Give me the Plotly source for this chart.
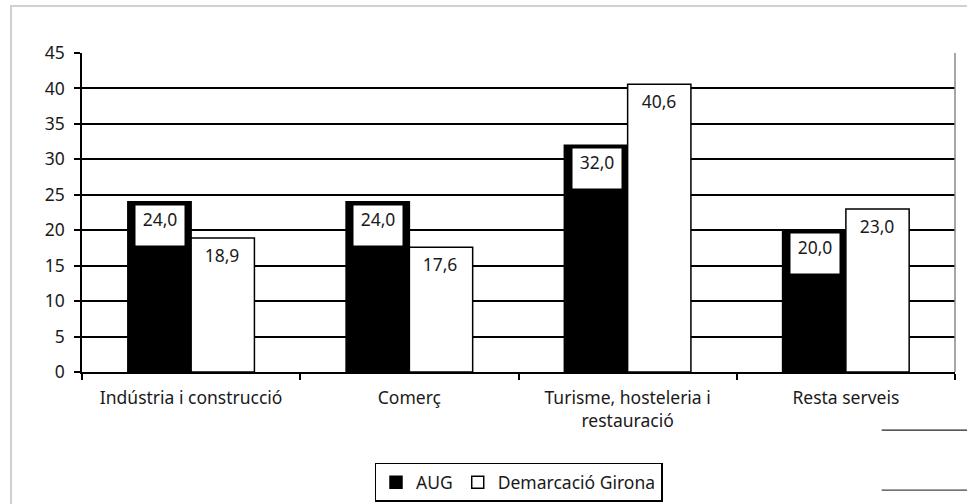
import plotly.graph_objects as go

categories = ["Indústria i construcció", "Comerç", "Turisme, hosteleria i<br>restauració", "Resta serveis"]
aug_values = [24.0, 24.0, 32.0, 20.0]
girona_values = [18.9, 17.6, 40.6, 23.0]
series_names = ["AUG", "Demarcació Girona"]
y_ticks = [0, 5, 10, 15, 20, 25, 30, 35, 40, 45]

FONT = "Noto Sans"
TXT = "#1a1a1a"
FS = 17.5

fig = go.Figure()
fig.add_trace(go.Bar(x=categories, y=aug_values, name=series_names[0],
                     marker=dict(color="black", line=dict(color="black", width=1.5))))
fig.add_trace(go.Bar(x=categories, y=girona_values, name=series_names[1],
                     marker=dict(color="white", line=dict(color="black", width=1.5))))

def fmt(v):
    return f"{v:.1f}".replace(".", ",")

annotations = []
for cat, a, g in zip(categories, aug_values, girona_values):
    for val, shift in ((a, -31), (g, 31)):
        annotations.append(dict(
            x=cat, y=val, xref="x", yref="y", text=fmt(val), showarrow=False,
            xshift=shift, yshift=-3, yanchor="top", xanchor="center",
            width=46, height=37, valign="top", align="center",
            bgcolor="white", borderpad=1,
            font=dict(family=FONT, size=FS, color=TXT)))

shapes = [
    dict(type="rect", xref="paper", yref="paper", x0=-0.0813, y0=-0.6, x1=1.05, y1=1.147,
         line=dict(color="#d0d0d0", width=2), fillcolor="rgba(0,0,0,0)", layer="below"),
    dict(type="line", xref="paper", yref="paper", x0=1, x1=1, y0=0, y1=1,
         line=dict(color="#8a8a8a", width=1.5)),
    dict(type="line", xref="paper", yref="paper", x0=0.916, x1=1.02, y0=-0.182, y1=-0.182,
         line=dict(color="#222", width=1.2)),
    dict(type="line", xref="paper", yref="paper", x0=0.916, x1=1.02, y0=-0.37, y1=-0.37,
         line=dict(color="#444", width=1.2)),
]

fig.update_layout(
    width=967, height=504,
    margin=dict(l=82, r=12, t=53, b=132, autoexpand=False),
    paper_bgcolor="white", plot_bgcolor="white",
    barmode="group", bargap=0.42, bargroupgap=0,
    font=dict(family=FONT, size=FS, color=TXT),
    showlegend=True,
    legend=dict(orientation="h", x=0.5, xanchor="center", y=-0.285, yanchor="top",
                bordercolor="black", borderwidth=1.5, bgcolor="white",
                font=dict(family=FONT, size=FS, color=TXT),
                itemwidth=30, tracegroupgap=0),
    annotations=annotations,
    shapes=shapes,
    xaxis=dict(showline=True, linecolor="black", linewidth=1.5,
               ticks="outside", tickson="boundaries", ticklen=6, tickcolor="black", tickwidth=1.5,
               ticklabelstandoff=9, automargin=False,
               tickfont=dict(family=FONT, size=FS, color=TXT), showgrid=False),
    yaxis=dict(range=[0, 45], tickvals=y_ticks, showline=True, linecolor="black", linewidth=1.5,
               ticks="outside", ticklen=6, tickcolor="black", tickwidth=1.5,
               ticklabelstandoff=6, automargin=False,
               showgrid=True, gridcolor="black", gridwidth=1.5, zeroline=False,
               tickfont=dict(family=FONT, size=FS, color=TXT)),
)

fig.write_html("out.html", config={"displayModeBar": False},
               post_script="document.body.style.margin='0px';")
